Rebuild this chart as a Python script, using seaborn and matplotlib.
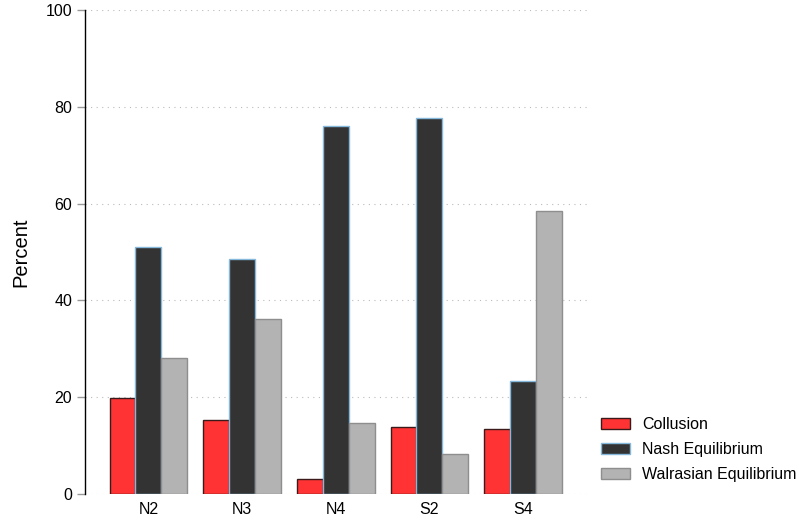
import matplotlib
matplotlib.use("Agg")
import matplotlib.pyplot as plt
from matplotlib.patches import Patch
import seaborn as sns
import pandas as pd

treatments = ["N2", "N3", "N4", "S2", "S4"]
outcomes = ["Collusion", "Nash Equilibrium", "Walrasian Equilibrium"]
collusion = [19.8, 15.3, 3.1, 13.8, 13.4]
nash = [51.0, 48.6, 76.0, 77.7, 23.3]
walrasian = [28.1, 36.2, 14.7, 8.3, 58.5]

face_colors = ["#ff3333", "#333333", "#b3b3b3"]
edge_colors = ["#3a1a1a", "#86b8dc", "#8e8e8e"]

df = pd.DataFrame({
    "treatment": treatments * 3,
    "outcome": [o for o in outcomes for _ in treatments],
    "percent": collusion + nash + walrasian,
})

sns.set_style("white")
plt.rcParams["font.family"] = ["Liberation Sans", "DejaVu Sans"]
plt.rcParams["font.size"] = 11.5
plt.rcParams["text.color"] = "black"
plt.rcParams["axes.labelcolor"] = "black"
plt.rcParams["xtick.color"] = "black"
plt.rcParams["ytick.color"] = "black"

fig = plt.figure(figsize=(7.99, 5.2), dpi=100)
ax = fig.add_axes([0.106, 0.05, 0.632, 0.931])

sns.barplot(data=df, x="treatment", y="percent", hue="outcome",
            order=treatments, hue_order=outcomes,
            palette=face_colors, width=0.83, saturation=1,
            legend=False, ax=ax, zorder=3)

for cont, ec in zip(ax.containers, edge_colors):
    for bar in cont:
        bar.set_edgecolor(ec)
        bar.set_linewidth(1.0)

ax.set_ylim(0, 100)
ax.set_xlim(-0.68, 4.71)
ax.set_yticks([0, 20, 40, 60, 80, 100])
ax.yaxis.grid(True, linestyle=(0, (1, 4)), color="#bbbbbb", linewidth=0.8, zorder=0)
ax.xaxis.grid(False)
ax.set_axisbelow(True)

for side in ["top", "right", "bottom"]:
    ax.spines[side].set_visible(False)
ax.spines["left"].set_color("black")
ax.spines["left"].set_linewidth(1.0)

ax.tick_params(axis="y", length=6, color="#999999", width=1, labelsize=11.5,
               labelcolor="black", pad=3, left=True)
ax.tick_params(axis="x", length=0, labelsize=11.5, labelcolor="black", pad=6)
ax.set_xlabel("")
ax.set_ylabel("Percent", fontsize=14.5, color="black", labelpad=11)

handles = [Patch(facecolor=fc, edgecolor=ec, linewidth=1.0, label=lab)
           for fc, ec, lab in zip(face_colors, edge_colors, outcomes)]
fig.legend(handles=handles, loc="lower left", bbox_to_anchor=(0.742, 0.058),
           frameon=False, fontsize=11.5, handlelength=1.8, handleheight=0.7,
           handletextpad=0.8, labelspacing=0.62, borderpad=0)

fig.savefig("out.png", dpi=100)
